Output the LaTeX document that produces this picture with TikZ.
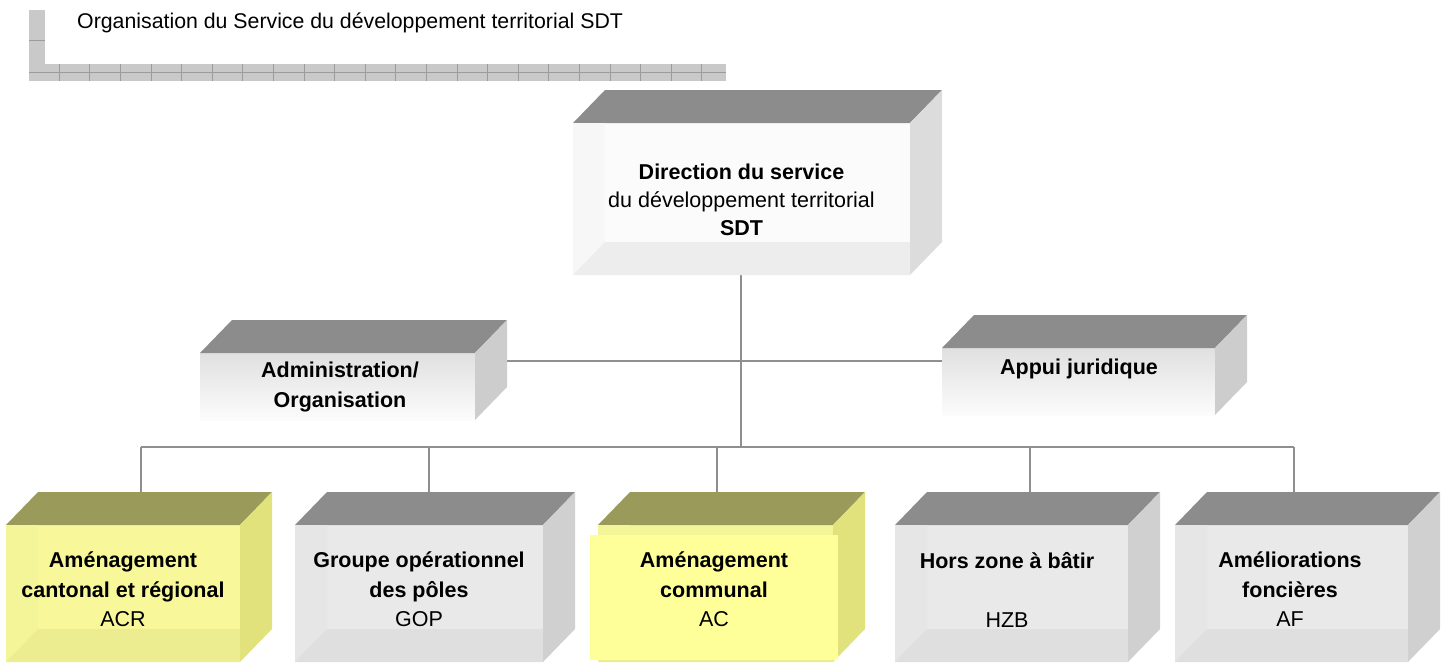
\documentclass[tikz,border=0pt]{standalone}
\usepackage{fontspec}
\setmainfont{Liberation Sans}
\usetikzlibrary{calc}
\pgfdeclarelayer{bg}
\pgfsetlayers{bg,main}
\definecolor{topg}{HTML}{8C8C8C}
\definecolor{sideg}{HTML}{D0D0D0}
\definecolor{frontg}{HTML}{E9E9E9}
\definecolor{wallg}{HTML}{E6E6E6}
\definecolor{floorg}{HTML}{DFDFDF}
\definecolor{dirfront}{HTML}{FBFBFB}
\definecolor{dirwall}{HTML}{F7F7F7}
\definecolor{dirfloor}{HTML}{EDEDED}
\definecolor{dirside}{HTML}{DCDCDC}
\definecolor{admtop}{HTML}{E0E0E0}
\definecolor{admbot}{HTML}{FCFCFC}
\definecolor{admside}{HTML}{CDCDCD}
\definecolor{ytop}{HTML}{9A9A5A}
\definecolor{yfront}{HTML}{FFFF99}
\definecolor{yfront2}{HTML}{F8F89B}
\definecolor{ywall}{HTML}{F4F498}
\definecolor{yfloor}{HTML}{ECEC90}
\definecolor{yside}{HTML}{E2E27C}
\definecolor{hdrfill}{HTML}{C9C9C9}
\definecolor{hdrline}{HTML}{9C9C9C}
\definecolor{linegray}{HTML}{8F8F8F}
% outer faces: name, top colour, side colour
\newcommand\cubeouter[3]{%
  \fill[#2] (#1.north west) -- ++(32,-33) -- ($(#1.north east)+(32,-33)$) -- (#1.north east) -- cycle;
  \fill[#3] (#1.north east) -- ++(32,-33) -- ($(#1.south east)+(32,-33)$) -- (#1.south east) -- cycle;
}
% inner faces: name, wall colour, floor colour
\newcommand\cubeinner[3]{%
  \fill[#2] (#1.north west) -- ($(#1.north west)+(32,0)$) -- ($(#1.south west)+(32,-33)$) -- (#1.south west) -- cycle;
  \fill[#3] (#1.south west) -- ($(#1.south west)+(32,-33)$) -- ($(#1.south east)+(0,-33)$) -- (#1.south east) -- cycle;
}
\begin{document}
\begin{tikzpicture}[x=1pt,y=-1pt,
  lbl/.style={font=\fontsize{21.5}{29.5}\selectfont, align=center, inner sep=0pt, text=black},
  face/.style={inner sep=0pt, outer sep=0pt, draw=none},
  conn/.style={draw=linegray, line width=2pt}]
\useasboundingbox (0,0) rectangle (1449,662);

% header
\fill[hdrfill] (29,10) rectangle (45,64);
\fill[hdrfill] (29,64) rectangle (726,81);
\draw[hdrline, line width=1pt] (29,40) -- (45,40);
\draw[hdrline, line width=1pt] (29,72) -- (726,72);
\foreach \k in {0,...,21} {\draw[hdrline, line width=1pt] (59.3+30.6*\k,64) -- (59.3+30.6*\k,81);}
\node[anchor=base west, inner sep=0pt, font=\fontsize{21.3}{25}\selectfont] (title) at (77,28) {Organisation du Service du développement territorial SDT};

% direction box
\node[face, fill=dirfront, minimum width=337pt, minimum height=152pt] (dir) at (741.5,199) {};
\cubeouter{dir}{topg}{dirside}
\cubeinner{dir}{dirwall}{dirfloor}
\node[lbl] (dirT) at (741.5,200) {\textbf{Direction du service}\\[-1.5pt]du développement territorial\\[-1.5pt]\textbf{SDT}};

% staff boxes
\node[face, top color=admtop, bottom color=admbot, minimum width=275pt, minimum height=67pt] (adm) at (337.5,386.5) {};
\cubeouter{adm}{topg}{admside}
\node[lbl, font=\bfseries\fontsize{21.5}{30}\selectfont] (admT) at (340,387) {Administration/\\Organisation};

\node[face, top color=admtop, bottom color=admbot, minimum width=273pt, minimum height=67pt] (app) at (1078.5,381.5) {};
\cubeouter{app}{topg}{admside}
\node[lbl, font=\bfseries\fontsize{21.5}{30}\selectfont] (appT) at (1079,369) {Appui juridique};

% bottom row
\node[face, fill=yfront2, minimum width=234pt, minimum height=137pt] (acr) at (123,593.5) {};
\cubeouter{acr}{ytop}{yside}
\cubeinner{acr}{ywall}{yfloor}
\node[lbl] (acrT) at (123,589.5) {\textbf{Aménagement}\\\textbf{cantonal et régional}\\ACR};

\node[face, fill=frontg, minimum width=248pt, minimum height=137pt] (gop) at (419,593.5) {};
\cubeouter{gop}{topg}{sideg}
\cubeinner{gop}{wallg}{floorg}
\node[lbl] (gopT) at (419,589.5) {\textbf{Groupe opérationnel}\\\textbf{des pôles}\\GOP};

\node[face, fill=ywall, minimum width=235pt, minimum height=137pt] (ac) at (715.5,593.5) {};
\cubeouter{ac}{ytop}{yside}
\cubeinner{ac}{ywall}{yfloor}
\node[face, fill=yfront, minimum width=248pt, minimum height=125pt] (acF) at (714,597.5) {};
\node[lbl] (acT) at (714,589.5) {\textbf{Aménagement}\\\textbf{communal}\\AC};

\node[face, fill=frontg, minimum width=233pt, minimum height=137pt] (hzb) at (1011.5,593.5) {};
\cubeouter{hzb}{topg}{sideg}
\cubeinner{hzb}{wallg}{floorg}
\node[lbl] (hzbT) at (1007,589.5) {\textbf{Hors zone à bâtir}\\[29.5pt]HZB};

\node[face, fill=frontg, minimum width=233pt, minimum height=137pt] (af) at (1291.5,593.5) {};
\cubeouter{af}{topg}{sideg}
\cubeinner{af}{wallg}{floorg}
\node[lbl] (afT) at (1290,589.5) {\textbf{Améliorations}\\\textbf{foncières}\\AF};

% connectors
\coordinate (m) at (741,361);
\coordinate (j) at (741,447);
\coordinate (d1) at (141,447);
\coordinate (d2) at (429,447);
\coordinate (d3) at (717,447);
\coordinate (d4) at (1030,447);
\coordinate (d5) at (1294,447);
\begin{pgfonlayer}{bg}
\draw[conn] (dir.south -| j) -- (j);
\draw[conn] (adm.east |- m) -- (app.west |- m);
\draw[conn] (d1) -- (d5);
\draw[conn] (d1) -- (d1 |- acr.north);
\draw[conn] (d2) -- (d2 |- gop.north);
\draw[conn] (d3) -- (d3 |- ac.north);
\draw[conn] (d4) -- (d4 |- hzb.north);
\draw[conn] (d5) -- (d5 |- af.north);
\end{pgfonlayer}
\end{tikzpicture}
\end{document}
